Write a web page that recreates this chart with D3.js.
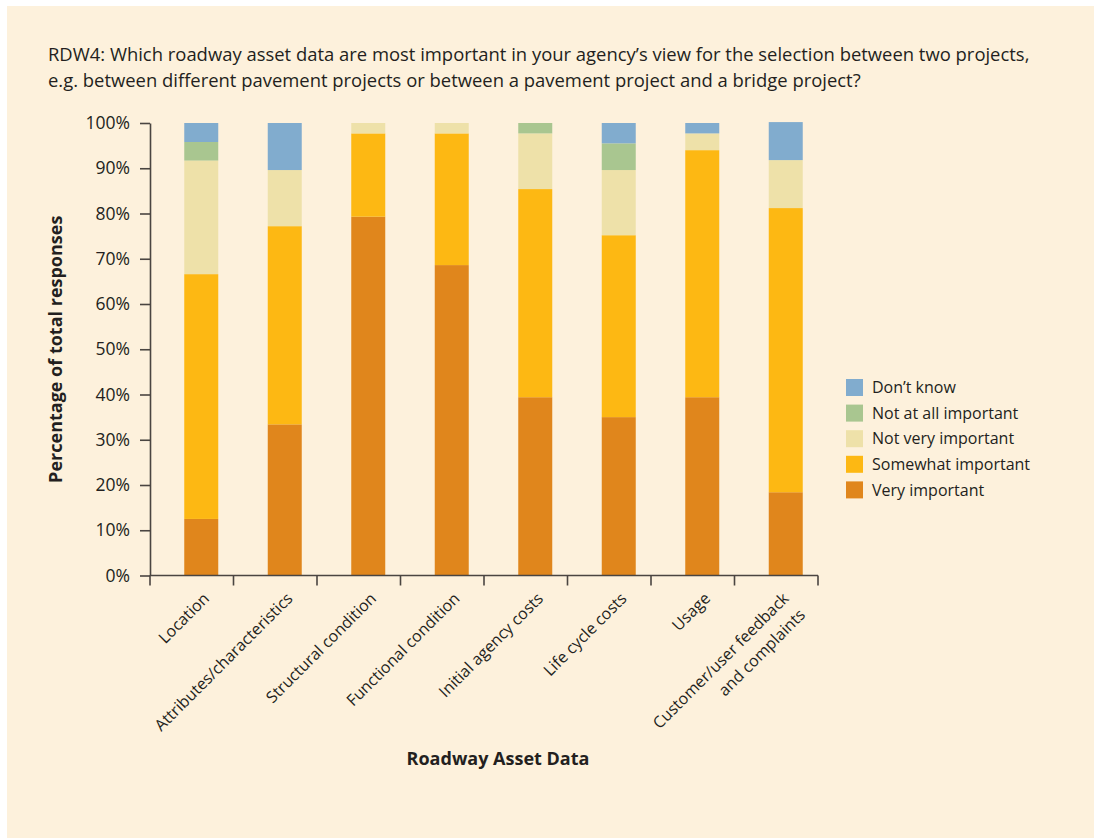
<!DOCTYPE html>
<html>
<head>
<meta charset="utf-8">
<script src="https://cdn.jsdelivr.net/npm/d3@7"></script>
<style>
  html, body { margin: 0; padding: 0; background: #ffffff; }
  svg { display: block; }
  text { font-family: "Open Sans", "Noto Sans", sans-serif; fill: #231f20; }
</style>
</head>
<body>
<svg id="chart" width="1094" height="838"></svg>
<script>
// Survey question RDW4: share of responses per importance level
const categories = [
  "Location",
  "Attributes/characteristics",
  "Structural condition",
  "Functional condition",
  "Initial agency costs",
  "Life cycle costs",
  "Usage",
  "Customer/user feedback\nand complaints"
];

// Stack order, bottom to top
const seriesNames = ["Very important", "Somewhat important", "Not very important", "Not at all important", "Don\u2019t know"];

const veryImportant      = [12.5, 33.4, 79.3, 68.6, 39.4, 35.0, 39.4, 18.4];
const somewhatImportant  = [54.1, 43.8, 18.4, 29.1, 46.0, 40.2, 54.6, 62.8];
const notVeryImportant   = [25.1, 12.4,  2.3,  2.3, 12.3, 14.4,  3.7, 10.6];
const notAtAllImportant  = [ 4.1,  0.0,  0.0,  0.0,  2.3,  5.9,  0.0,  0.0];
const dontKnow           = [ 4.2, 10.4,  0.0,  0.0,  0.0,  4.5,  2.3,  8.4];

const yTicks = [0, 10, 20, 30, 40, 50, 60, 70, 80, 90, 100];

const colors = ["#e0861c", "#fdb813", "#eee1a9", "#a9c690", "#81acce"];

const titleLines = [
  "RDW4: Which roadway asset data are most important in your agency\u2019s view for the selection between two projects,",
  "e.g. between different pavement projects or between a pavement project and a bridge project?"
];

// Build rows for the stack layout
const seriesValues = [veryImportant, somewhatImportant, notVeryImportant, notAtAllImportant, dontKnow];
const rows = categories.map((c, i) => {
  const r = { category: c };
  seriesNames.forEach((s, k) => { r[s] = seriesValues[k][i]; });
  return r;
});

const svg = d3.select("#chart");

// Cream panel
svg.append("rect")
  .attr("x", 7).attr("y", 6)
  .attr("width", 1094 - 7).attr("height", 838 - 6)
  .attr("fill", "#fdf1dc");

// Title, sized so the first line spans the chart width
const title = svg.append("g").selectAll("text")
  .data(titleLines)
  .join("text")
  .attr("x", 48)
  .attr("y", (d, i) => 61 + i * 25.5)
  .attr("font-size", 16)
  .text(d => d);
const firstLen = title.nodes()[0].getComputedTextLength();
const titleSize = Math.min(19, 16 * 982 / firstLen);
title.attr("font-size", titleSize);

const plot = { left: 150, right: 818, top: 123, bottom: 575.5 };

const x = d3.scaleBand()
  .domain(categories)
  .range([plot.left, plot.right])
  .paddingInner(0).paddingOuter(0);

const y = d3.scaleLinear()
  .domain([0, 100])
  .range([plot.bottom, plot.top]);

const color = d3.scaleOrdinal().domain(seriesNames).range(colors);

const barWidth = 34;
const barShift = 9.5;
const barCenter = c => x(c) + x.bandwidth() / 2 + barShift;

const stacked = d3.stack().keys(seriesNames)(rows);

svg.append("g")
  .selectAll("g")
  .data(stacked)
  .join("g")
  .attr("fill", d => color(d.key))
  .selectAll("rect")
  .data(d => d.filter(p => p[1] - p[0] > 0))
  .join("rect")
  .attr("x", d => barCenter(d.data.category) - barWidth / 2)
  .attr("width", barWidth)
  .attr("y", d => y(d[1]))
  .attr("height", d => y(d[0]) - y(d[1]));

// Y axis
const yAxis = svg.append("g")
  .attr("transform", `translate(${plot.left},0)`)
  .call(d3.axisLeft(y).tickValues(yTicks).tickFormat(d => d + "%").tickSize(10).tickSizeOuter(0).tickPadding(10));
yAxis.select(".domain").attr("stroke", "#4a4541").attr("stroke-width", 1.6);
yAxis.selectAll(".tick line").attr("stroke", "#4a4541").attr("stroke-width", 1.6);
yAxis.selectAll(".tick text")
  .attr("font-size", 17.5)
  .attr("font-family", "\"Open Sans\", sans-serif")
  .attr("fill", "#231f20");

// X axis: ticks at category boundaries
const boundaries = categories.map(c => x(c)).concat([plot.right]);
const xAxisG = svg.append("g");
xAxisG.append("line")
  .attr("x1", plot.left).attr("x2", plot.right)
  .attr("y1", plot.bottom).attr("y2", plot.bottom)
  .attr("stroke", "#4a4541").attr("stroke-width", 1.6);
xAxisG.selectAll("line.tick")
  .data(boundaries)
  .join("line")
  .attr("class", "tick")
  .attr("x1", d => d).attr("x2", d => d)
  .attr("y1", plot.bottom).attr("y2", plot.bottom + 10)
  .attr("stroke", "#4a4541").attr("stroke-width", 1.6);

// Rotated category labels
const labels = svg.append("g").selectAll("text")
  .data(categories)
  .join("text")
  .attr("font-size", 16)
  .attr("text-anchor", "end")
  .attr("transform", d => {
    const n = d.split("\n").length;
    return `translate(${barCenter(d) + 9 - (n - 1) * 5},${plot.bottom + 24}) rotate(-45)`;
  });
labels.each(function(d) {
  const lines = d.split("\n");
  d3.select(this).selectAll("tspan")
    .data(lines)
    .join("tspan")
    .attr("x", 0)
    .attr("dy", (l, i) => i === 0 ? 0 : "1.45em")
    .text(l => l);
});

// Axis titles
svg.append("text")
  .attr("x", 498).attr("y", 765)
  .attr("text-anchor", "middle")
  .attr("font-size", 18)
  .attr("font-weight", "bold")
  .text("Roadway Asset Data");

svg.append("text")
  .attr("transform", `translate(62,${(plot.top + plot.bottom) / 2}) rotate(-90)`)
  .attr("text-anchor", "middle")
  .attr("font-size", 18)
  .attr("font-weight", "bold")
  .text("Percentage of total responses");

// Legend, top entry first
const legendItems = seriesNames.slice().reverse();
const legend = svg.append("g").attr("transform", "translate(846,379)");
const li = legend.selectAll("g")
  .data(legendItems)
  .join("g")
  .attr("transform", (d, i) => `translate(0,${i * 25.6})`);
li.append("rect")
  .attr("width", 17).attr("height", 17)
  .attr("fill", d => color(d));
li.append("text")
  .attr("x", 26).attr("y", 8.5)
  .attr("dy", "0.35em")
  .attr("font-size", 16)
  .text(d => d);
</script>
</body>
</html>
